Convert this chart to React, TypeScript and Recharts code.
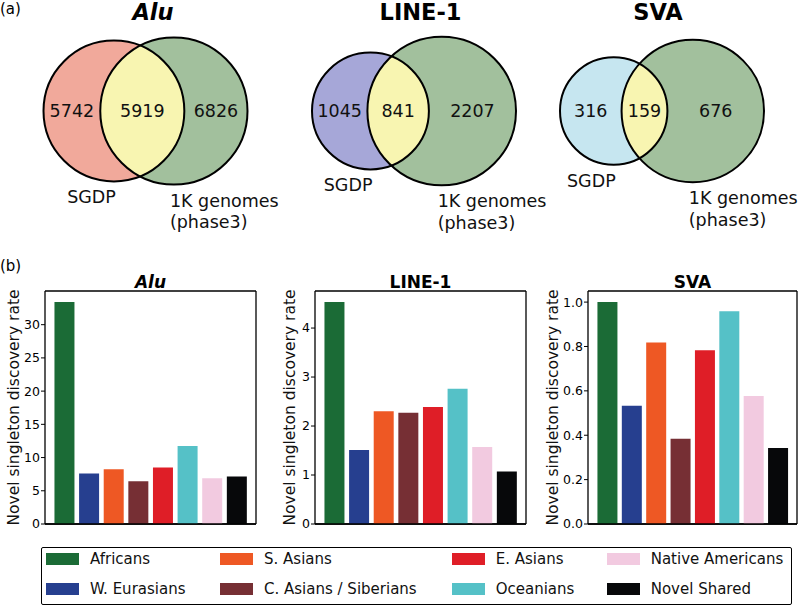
import React from 'react';
import { ScatterChart, Scatter, XAxis, YAxis, BarChart, Bar, Cell, Legend, CartesianGrid } from 'recharts';

// ---------- data ----------
const populations = ['Africans', 'W. Eurasians', 'S. Asians', 'C. Asians / Siberians', 'E. Asians', 'Oceanians', 'Native Americans', 'Novel Shared'];
const popColors = ['#1b6b36', '#263f8f', '#ee5824', '#762f34', '#df1e27', '#55c1c7', '#f2cae0', '#07080a'];
const aluRates = [33.4, 7.6, 8.25, 6.45, 8.5, 11.75, 6.9, 7.15];
const line1Rates = [4.53, 1.51, 2.3, 2.27, 2.39, 2.76, 1.57, 1.07];
const svaRates = [1.0, 0.533, 0.818, 0.384, 0.783, 0.959, 0.577, 0.343];
const aluTicks = [0, 5, 10, 15, 20, 25, 30];
const line1Ticks = [0, 1, 2, 3, 4];
const svaTicks = [0, 0.2, 0.4, 0.6, 0.8, 1.0];

const elementNames = ['Alu', 'LINE-1', 'SVA'];
const sgdpOnly = [5742, 1045, 316];
const sharedCounts = [5919, 841, 159];
const kgOnly = [6826, 2207, 676];
const setLabelA = 'SGDP';
const setLabelB = ['1K genomes', '(phase3)'];
const yLabel = 'Novel singleton discovery rate';

// ---------- layout / style ----------
const FONT = '"DejaVu Sans", Verdana, sans-serif';
const VENN_WIDTH_PX = 204;
const vennCenterX = [145.5, 414, 662];
const vennCenterY = 111;
const vennTitleX = [153, 420.5, 658];
const vennColorsA = ['#f1a99b', '#a6a7d8', '#c6e6f0'];
const vennColorB = '#a2c09d';
const vennColorAB = '#f8f5b1';

function lensArea(r1: number, r2: number, d: number) {
  if (d >= r1 + r2) return 0;
  if (d <= Math.abs(r1 - r2)) return Math.PI * Math.min(r1, r2) ** 2;
  const a1 = Math.acos((d * d + r1 * r1 - r2 * r2) / (2 * d * r1));
  const a2 = Math.acos((d * d + r2 * r2 - r1 * r1) / (2 * d * r2));
  return r1 * r1 * a1 + r2 * r2 * a2 - 0.5 * Math.sqrt((-d + r1 + r2) * (d + r1 - r2) * (d - r1 + r2) * (d + r1 + r2));
}
function solveDistance(r1: number, r2: number, target: number) {
  let lo = Math.abs(r1 - r2), hi = r1 + r2;
  for (let i = 0; i < 100; i++) {
    const mid = (lo + hi) / 2;
    if (lensArea(r1, r2, mid) > target) lo = mid; else hi = mid;
  }
  return (lo + hi) / 2;
}

const vennData = elementNames.map((name, i) => {
  const A = sgdpOnly[i] + sharedCounts[i];
  const B = kgOnly[i] + sharedCounts[i];
  const rA = Math.sqrt(A / Math.PI);
  const rB = Math.sqrt(B / Math.PI);
  const d = solveDistance(rA, rB, sharedCounts[i]);
  const k = VENN_WIDTH_PX / (rA + d + rB);
  return {
    x: vennCenterX[i], y: vennCenterY, name,
    rA: rA * k, rB: rB * k, d: d * k,
    a: sgdpOnly[i], ab: sharedCounts[i], b: kgOnly[i],
    colorA: vennColorsA[i], titleDx: vennTitleX[i] - vennCenterX[i], italic: i === 0,
  };
});

const VennShape = (props: any) => {
  const { cx, cy, payload } = props;
  const { rA, rB, d, colorA, a, ab, b, name, titleDx, italic } = payload;
  const xA = cx - (rA + d + rB) / 2 + rA;
  const xB = xA + d;
  const xi = (d * d + rA * rA - rB * rB) / (2 * d);
  const h = Math.sqrt(Math.max(0, rA * rA - xi * xi));
  const px = xA + xi;
  const largeB = px > xB ? 1 : 0;
  const largeA = px < xA ? 1 : 0;
  const lens = `M ${px} ${cy - h} A ${rB} ${rB} 0 ${largeB} 0 ${px} ${cy + h} A ${rA} ${rA} 0 ${largeA} 0 ${px} ${cy - h} Z`;
  const leftA = xA - rA, rightA = xA + rA, leftB = xB - rB, rightB = xB + rB;
  const numStyle = { fontFamily: FONT, fontSize: 17.5, fill: '#111' } as any;
  const bx = xB - 4;
  return (
    <g>
      <circle cx={xA} cy={cy} r={rA} fill={colorA} />
      <circle cx={xB} cy={cy} r={rB} fill={vennColorB} />
      <path d={lens} fill={vennColorAB} />
      <circle cx={xA} cy={cy} r={rA} fill="none" stroke="#000" strokeWidth={2} />
      <circle cx={xB} cy={cy} r={rB} fill="none" stroke="#000" strokeWidth={2} />
      <text x={(leftA + leftB) / 2} y={cy} textAnchor="middle" dominantBaseline="central" {...numStyle}>{a}</text>
      <text x={(leftB + rightA) / 2} y={cy} textAnchor="middle" dominantBaseline="central" {...numStyle}>{ab}</text>
      <text x={(rightA + rightB) / 2} y={cy} textAnchor="middle" dominantBaseline="central" {...numStyle}>{b}</text>
      <text x={xA + 2} y={cy + rA + 22} textAnchor="end" {...numStyle}>{setLabelA}</text>
      <text x={bx} y={cy + rB + 22} textAnchor="start" {...numStyle}>
        <tspan x={bx}>{setLabelB[0]}</tspan>
        <tspan x={bx} dy={21.5}>{setLabelB[1]}</tspan>
      </text>
      <text x={cx + titleDx} y={cy - (vennCenterY - 20)} textAnchor="middle" fontFamily={FONT} fontSize={22.5}
        fontWeight="bold" fontStyle={italic ? 'italic' : 'normal'} fill="#000">{name}</text>
    </g>
  );
};

const axisStroke = { stroke: '#000', strokeWidth: 1.3 };

type RateProps = {
  title: string; values: number[]; ticks: number[]; left: number; width: number;
  yAxisWidth: number; marginRight: number; labelCx: number; italic?: boolean; decimals?: number;
};

const CHART_TOP = 270;
const CHART_H = 263;
const MARGIN_TOP = 21;
const MARGIN_BOTTOM = 8;

function RateChart({ title, values, ticks, left, width, yAxisWidth, marginRight, labelCx, italic, decimals }: RateProps) {
  const data = populations.map((p, i) => ({ name: p, value: values[i] }));
  const max = Math.max(...values) * 1.05;
  const plotW = width - yAxisWidth - marginRight;
  const YLabelContent = (p: any) => {
    const vb = p.viewBox || {};
    const x = labelCx - left;
    const y = vb.y + vb.height / 2;
    return (
      <g>
        <text x={x} y={y} transform={`rotate(-90 ${x} ${y})`} textAnchor="middle" dominantBaseline="central"
          fontFamily={FONT} fontSize={15.5} fill="#111">{yLabel}</text>
        <text x={yAxisWidth + plotW / 2} y={vb.y - 3} textAnchor="middle" fontFamily={FONT} fontSize={17}
          fontWeight="bold" fontStyle={italic ? 'italic' : 'normal'} fill="#000">{title}</text>
      </g>
    );
  };
  return (
    <div style={{ position: 'absolute', left, top: CHART_TOP }}>
      <BarChart width={width} height={CHART_H} data={data}
        margin={{ top: MARGIN_TOP, right: marginRight, left: 0, bottom: MARGIN_BOTTOM }} barCategoryGap="10%">
        <CartesianGrid stroke="#000" strokeWidth={1.3}
          horizontalCoordinatesGenerator={(g: any) => [g.offset.top, g.offset.top + g.offset.height]}
          verticalCoordinatesGenerator={(g: any) => [g.offset.left + g.offset.width]} />
        <XAxis dataKey="name" tick={false} tickLine={false} axisLine={axisStroke} height={1} padding={{ left: 7, right: 7 }} />
        <YAxis type="number" domain={[0, max]} ticks={ticks} width={yAxisWidth} interval={0}
          tickSize={4} tickMargin={1} axisLine={axisStroke} tickLine={{ stroke: '#000', strokeWidth: 1 }}
          tick={{ fontFamily: FONT, fontSize: 12.5, fill: '#000' }}
          tickFormatter={(v: number) => (decimals ? v.toFixed(decimals) : String(v))}
          label={{ content: YLabelContent }} />
        <Bar dataKey="value" isAnimationActive={false}>
          {data.map((_, i) => <Cell key={i} fill={popColors[i]} />)}
        </Bar>
      </BarChart>
    </div>
  );
}

const legendCols = [46, 220, 451.7, 606.7];
const legendRows = [8, 38];

const LegendContent = () => (
  <div style={{ position: 'relative', width: 799, height: 60, fontFamily: FONT }}>
    <div style={{ position: 'absolute', left: 41, top: 1.5, width: 749, height: 56, border: '1.3px solid #000', borderRadius: 2 }} />
    {populations.map((p, i) => {
      const col = Math.floor(i / 2), row = i % 2;
      return (
        <React.Fragment key={p}>
          <div style={{ position: 'absolute', left: legendCols[col], top: legendRows[row], width: 33, height: 12, background: popColors[i] }} />
          <div style={{ position: 'absolute', left: legendCols[col] + 44, top: legendRows[row] - 4, fontSize: 15, lineHeight: '20px', color: '#111', whiteSpace: 'nowrap' }}>{p}</div>
        </React.Fragment>
      );
    })}
  </div>
);

export default function App() {
  return (
    <div style={{ position: 'absolute', left: 0, top: 0, width: 799, height: 605, overflow: 'hidden', background: '#fff', fontFamily: FONT }}>
      <div style={{ position: 'absolute', left: 0, top: 0 }}>
        <ScatterChart width={799} height={250} margin={{ top: 0, right: 0, bottom: 0, left: 0 }}>
          <XAxis type="number" dataKey="x" domain={[0, 799]} hide />
          <YAxis type="number" dataKey="y" domain={[0, 250]} reversed hide />
          <Scatter data={vennData} shape={VennShape} isAnimationActive={false} />
        </ScatterChart>
      </div>
      <svg style={{ position: 'absolute', left: 0, top: 0 }} width={40} height={22}>
        <text x={0} y={14} fontFamily={FONT} fontSize={15} fill="#000">(a)</text>
      </svg>
      <svg style={{ position: 'absolute', left: 0, top: 256 }} width={40} height={22}>
        <text x={0} y={15} fontFamily={FONT} fontSize={15} fill="#000">(b)</text>
      </svg>
      <RateChart title="Alu" italic values={aluRates} ticks={aluTicks} left={0} width={262} yAxisWidth={45} marginRight={6} labelCx={14} />
      <RateChart title="LINE-1" values={line1Rates} ticks={line1Ticks} left={270} width={262} yAxisWidth={45} marginRight={6} labelCx={290} />
      <RateChart title="SVA" values={svaRates} ticks={svaTicks} left={540} width={259} yAxisWidth={48} marginRight={2} labelCx={553} decimals={1} />
      <div style={{ position: 'absolute', left: 0, top: 545 }}>
        <BarChart width={799} height={60} data={populations.map((p) => ({ name: p }))} margin={{ top: 0, right: 0, bottom: 0, left: 0 }}>
          <Legend content={LegendContent} wrapperStyle={{ left: 0, top: 0, bottom: 'auto', width: 799, height: 60 }} />
        </BarChart>
      </div>
    </div>
  );
}
